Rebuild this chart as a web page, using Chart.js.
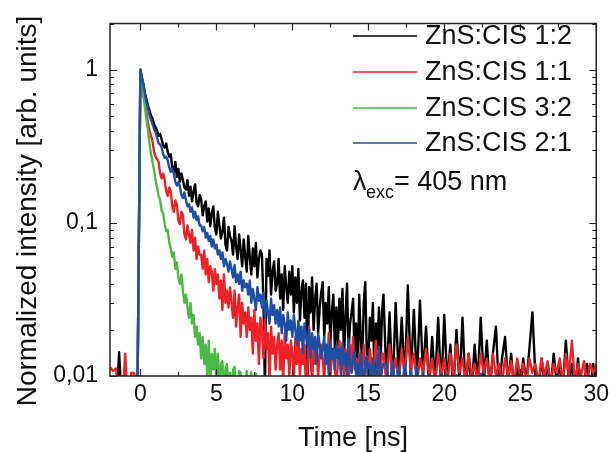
<!DOCTYPE html>
<html>
<head>
<meta charset="utf-8">
<script src="https://cdn.jsdelivr.net/npm/chart.js@4.4.0/dist/chart.umd.min.js"></script>
<style>
  html, body { margin: 0; padding: 0; background: #fff; }
  #wrap { width: 616px; height: 452px; }
</style>
</head>
<body>
<div id="wrap"><canvas id="decay" width="616" height="452"></canvas></div>
<script>
// time axis, ns: 0.2 ns bins before zero and after 16 ns, 0.1 ns in between
const times = [
  -2.0,-1.8,-1.6,-1.4,-1.2,-1.0,-0.8,-0.6,-0.4,-0.2,
  0.0,0.1,0.2,0.3,0.4,0.5,0.6,0.7,0.8,0.9,
  1.0,1.1,1.2,1.3,1.4,1.5,1.6,1.7,1.8,1.9,
  2.0,2.1,2.2,2.3,2.4,2.5,2.6,2.7,2.8,2.9,
  3.0,3.1,3.2,3.3,3.4,3.5,3.6,3.7,3.8,3.9,
  4.0,4.1,4.2,4.3,4.4,4.5,4.6,4.7,4.8,4.9,
  5.0,5.1,5.2,5.3,5.4,5.5,5.6,5.7,5.8,5.9,
  6.0,6.1,6.2,6.3,6.4,6.5,6.6,6.7,6.8,6.9,
  7.0,7.1,7.2,7.3,7.4,7.5,7.6,7.7,7.8,7.9,
  8.0,8.1,8.2,8.3,8.4,8.5,8.6,8.7,8.8,8.9,
  9.0,9.1,9.2,9.3,9.4,9.5,9.6,9.7,9.8,9.9,
  10.0,10.1,10.2,10.3,10.4,10.5,10.6,10.7,10.8,10.9,
  11.0,11.1,11.2,11.3,11.4,11.5,11.6,11.7,11.8,11.9,
  12.0,12.1,12.2,12.3,12.4,12.5,12.6,12.7,12.8,12.9,
  13.0,13.1,13.2,13.3,13.4,13.5,13.6,13.7,13.8,13.9,
  14.0,14.1,14.2,14.3,14.4,14.5,14.6,14.7,14.8,14.9,
  15.0,15.1,15.2,15.3,15.4,15.5,15.6,15.7,15.8,15.9,
  16.0,
  16.2,16.4,16.6,16.8,17.0,17.2,17.4,17.6,17.8,
  18.0,18.2,18.4,18.6,18.8,19.0,19.2,19.4,19.6,19.8,
  20.0,20.2,20.4,20.6,20.8,21.0,21.2,21.4,21.6,21.8,
  22.0,22.2,22.4,22.6,22.8,23.0,23.2,23.4,23.6,23.8,
  24.0,24.2,24.4,24.6,24.8,25.0,25.2,25.4,25.6,25.8,
  26.0,26.2,26.4,26.6,26.8,27.0,27.2,27.4,27.6,27.8,
  28.0,28.2,28.4,28.6,28.8,29.0,29.2,29.4,29.6,29.8,
  30.0
];

// ZnS:CIS 1:2
const cis12 = [
  0.006,0.006,0.006,0.0143,0.006,0.006,0.006,0.006,0.006,0.006,
  1.0,0.88,0.80,0.70,0.64,0.58,0.54,0.50,0.48,0.44,
  0.42,0.40,0.37,0.38,0.35,0.32,0.31,0.33,0.29,0.27,
  0.28,0.23,0.215,0.25,0.20,0.225,0.185,0.21,0.19,0.17,
  0.165,0.19,0.15,0.172,0.138,0.16,0.178,0.135,0.128,0.152,
  0.142,0.112,0.128,0.138,0.102,0.124,0.095,0.116,0.128,0.092,
  0.084,0.118,0.096,0.079,0.088,0.108,0.072,0.066,0.094,0.082,
  0.076,0.062,0.095,0.070,0.058,0.084,0.066,0.052,0.078,0.060,
  0.048,0.082,0.060,0.046,0.068,0.052,0.074,0.044,0.058,0.066,
  0.062,0.030,0.008,0.058,0.045,0.066,0.034,0.048,0.056,0.036,
  0.040,0.058,0.032,0.046,0.027,0.052,0.038,0.030,0.048,0.034,
  0.052,0.026,0.044,0.030,0.050,0.023,0.036,0.042,0.024,0.040,
  0.009,0.038,0.026,0.044,0.020,0.032,0.040,0.019,0.028,0.035,
  0.041,0.018,0.030,0.022,0.038,0.016,0.026,0.034,0.015,0.028,
  0.016,0.032,0.020,0.037,0.013,0.024,0.040,0.014,0.022,0.026,
  0.032,0.013,0.022,0.009,0.034,0.018,0.012,0.030,0.041,0.014,
  0.012,0.024,0.017,0.030,0.010,0.022,0.015,0.028,0.011,0.026,
  0.034,
  0.009,0.026,0.008,0.030,0.010,0.024,0.009,0.039,0.010,
  0.027,0.009,0.031,0.010,0.021,0.008,0.018,0.009,0.024,0.008,
  0.025,0.009,0.016,0.008,0.020,0.009,0.024,0.008,0.014,0.008,
  0.016,0.009,0.024,0.009,0.017,0.008,0.014,0.021,0.008,0.013,
  0.018,0.009,0.014,0.008,0.012,0.008,0.013,0.009,0.015,0.026,
  0.010,0.008,0.013,0.009,0.012,0.008,0.014,0.009,0.012,0.008,
  0.017,0.009,0.012,0.008,0.013,0.008,0.009,0.012,0.008,0.012,
  0.009
];

// ZnS:CIS 1:1
const cis11 = [
  0.0114,0.0108,0.0112,0.006,0.006,0.0140,0.006,0.0105,0.0104,0.006,
  1.0,0.82,0.68,0.60,0.53,0.45,0.40,0.37,0.34,0.29,
  0.27,0.26,0.25,0.21,0.195,0.21,0.19,0.16,0.15,0.17,
  0.160,0.128,0.118,0.140,0.132,0.104,0.098,0.118,0.112,0.084,
  0.078,0.096,0.084,0.074,0.090,0.066,0.080,0.058,0.070,0.062,
  0.062,0.050,0.066,0.046,0.058,0.041,0.052,0.048,0.036,0.050,
  0.040,0.046,0.032,0.042,0.027,0.046,0.030,0.036,0.028,0.038,
  0.030,0.024,0.036,0.021,0.028,0.034,0.018,0.030,0.022,0.026,
  0.018,0.028,0.020,0.024,0.014,0.027,0.017,0.022,0.012,0.024,
  0.020,0.013,0.024,0.015,0.019,0.009,0.021,0.014,0.018,0.011,
  0.016,0.019,0.011,0.017,0.009,0.019,0.013,0.016,0.010,0.017,
  0.014,0.009,0.018,0.012,0.019,0.010,0.015,0.012,0.016,0.008,
  0.011,0.021,0.013,0.009,0.016,0.012,0.015,0.010,0.014,0.016,
  0.013,0.009,0.016,0.012,0.019,0.010,0.013,0.015,0.011,0.009,
  0.012,0.017,0.011,0.014,0.010,0.015,0.012,0.009,0.016,0.012,
  0.018,0.011,0.013,0.010,0.014,0.009,0.012,0.016,0.010,0.013,
  0.010,0.015,0.012,0.009,0.013,0.017,0.010,0.012,0.009,0.014,
  0.014,
  0.009,0.016,0.010,0.013,0.009,0.015,0.010,0.018,0.011,
  0.014,0.009,0.013,0.0105,0.015,0.010,0.013,0.009,0.014,0.010,
  0.013,0.009,0.014,0.010,0.016,0.0105,0.013,0.009,0.014,0.010,
  0.012,0.009,0.014,0.0105,0.013,0.009,0.014,0.010,0.012,0.009,
  0.013,0.010,0.0125,0.009,0.013,0.010,0.012,0.009,0.013,0.0105,
  0.012,0.009,0.013,0.010,0.0125,0.009,0.012,0.0105,0.013,0.009,
  0.014,0.010,0.017,0.009,0.012,0.010,0.0125,0.009,0.012,0.0105,
  0.012
];

// ZnS:CIS 3:2 (under the axis after ~8 ns)
const cis32 = [
  0.006,0.006,0.006,0.006,0.006,0.006,0.006,0.006,0.006,0.006,
  1.0,0.82,0.70,0.57,0.47,0.40,0.33,0.28,0.25,0.22,
  0.19,0.17,0.15,0.14,0.12,0.115,0.098,0.088,0.090,0.074,
  0.068,0.060,0.064,0.050,0.055,0.044,0.040,0.046,0.036,0.030,
  0.034,0.028,0.024,0.030,0.022,0.025,0.018,0.021,0.016,0.019,
  0.013,0.018,0.012,0.016,0.010,0.017,0.009,0.014,0.011,0.015,
  0.009,0.014,0.008,0.012,0.0125,0.007,0.011,0.012,0.008,0.0105,
  0.007,0.011,0.0115,0.007,0.007,0.0108,0.0105,0.006,0.006,0.007,
  0.0108,0.007,0.006,0.0106,0.007,0.006,0.0104,0.006,0.006
];

// ZnS:CIS 2:1
const cis21 = [
  0.006,0.006,0.006,0.006,0.006,0.006,0.006,0.006,0.006,0.006,
  1.0,0.89,0.79,0.69,0.61,0.56,0.51,0.47,0.44,0.41,
  0.39,0.36,0.33,0.325,0.31,0.28,0.265,0.27,0.255,0.23,
  0.215,0.225,0.21,0.185,0.175,0.185,0.172,0.152,0.145,0.158,
  0.140,0.128,0.132,0.118,0.126,0.108,0.118,0.104,0.110,0.096,
  0.096,0.088,0.094,0.080,0.086,0.076,0.082,0.070,0.078,0.068,
  0.072,0.062,0.066,0.058,0.064,0.052,0.058,0.054,0.048,0.056,
  0.050,0.044,0.053,0.041,0.046,0.040,0.048,0.036,0.042,0.038,
  0.040,0.034,0.042,0.030,0.037,0.032,0.027,0.038,0.031,0.034,
  0.028,0.035,0.024,0.031,0.026,0.022,0.032,0.025,0.029,0.022,
  0.027,0.021,0.028,0.019,0.025,0.022,0.017,0.026,0.020,0.023,
  0.018,0.025,0.020,0.016,0.023,0.017,0.021,0.014,0.022,0.018,
  0.016,0.020,0.013,0.019,0.015,0.018,0.012,0.019,0.016,0.013,
  0.015,0.018,0.012,0.016,0.010,0.017,0.013,0.015,0.011,0.016,
  0.013,0.015,0.010,0.0165,0.012,0.014,0.009,0.0175,0.012,0.0105,
  0.013,0.0145,0.010,0.012,0.009,0.014,0.011,0.009,0.0125,0.0135,
  0.010,0.012,0.008,0.013,0.011,0.009,0.012,0.0155,0.009,0.011,
  0.012,
  0.012,0.008,0.0125,0.008,0.0115,0.008,0.012,0.008,0.011,
  0.008,0.0115,0.008,0.0105,0.008,0.0102,0.008,0.010,0.008,0.0103,
  0.008,0.0102,0.008,0.009,0.0101,0.008,0.009,0.008,0.0095,0.008,
  0.009,0.008,0.0103,0.008,0.009,0.008,0.0095,0.008,0.0104,0.008,
  0.009,0.008,0.0092,0.008,0.009,0.008,0.0092,0.008,0.009,0.008,
  0.0102,0.008,0.009,0.008,0.009,0.008,0.009,0.008,0.009,0.008,
  0.009,0.008,0.009,0.008,0.009,0.008,0.009,0.008,0.009,0.008,
  0.009
];

const seriesNames = ["ZnS:CIS 1:2", "ZnS:CIS 1:1", "ZnS:CIS 3:2", "ZnS:CIS 2:1"];
const seriesColors = ["#000000", "#ec2227", "#4cb847", "#1d4fa4"];
const seriesValues = [cis12, cis11, cis32, cis21];
const drawOrder = [4, 3, 2, 1]; // 2:1 on top, 1:2 at the back

const xTicks = [0, 5, 10, 15, 20, 25, 30];
const xMinor = [2.5, 7.5, 12.5, 17.5, 22.5, 27.5];
const yTicks = [0.01, 0.1, 1];
const yTickLabels = ["0,01", "0,1", "1"];
const yMinor = [0.02,0.03,0.04,0.05,0.06,0.07,0.08,0.09,0.2,0.3,0.4,0.5,0.6,0.7,0.8,0.9,2];

const FONT = '"Liberation Sans", Arial, Helvetica, sans-serif';
Chart.defaults.font.family = FONT;
Chart.defaults.color = "#111";

// frame, inward ticks, axis titles and legend
const decor = {
  id: "decor",
  afterDatasetsDraw(chart){
    const {ctx, chartArea: a, scales: {x, y}} = chart;
    ctx.save();
    ctx.strokeStyle = "#222";
    ctx.lineWidth = 1.5;
    ctx.strokeRect(a.left, a.top, a.right - a.left, a.bottom - a.top);
    ctx.beginPath();
    const xt = (v, len) => {
      const p = Math.round(x.getPixelForValue(v)) + 0.5;
      ctx.moveTo(p, a.bottom); ctx.lineTo(p, a.bottom - len);
      ctx.moveTo(p, a.top); ctx.lineTo(p, a.top + len);
    };
    const yt = (v, len) => {
      const p = Math.round(y.getPixelForValue(v)) + 0.5;
      ctx.moveTo(a.left, p); ctx.lineTo(a.left + len, p);
      ctx.moveTo(a.right, p); ctx.lineTo(a.right - len, p);
    };
    xTicks.forEach(v => xt(v, 7));
    xMinor.forEach(v => xt(v, 4));
    yTicks.forEach(v => yt(v, 7));
    yMinor.forEach(v => yt(v, 4));
    ctx.lineWidth = 1.2;
    ctx.stroke();

    // axis titles
    ctx.fillStyle = "#111";
    ctx.font = "27px " + FONT;
    ctx.textAlign = "center";
    ctx.textBaseline = "alphabetic";
    ctx.fillText("Time [ns]", (a.left + a.right) / 2, 446);
    ctx.save();
    ctx.translate(36, 211);
    ctx.rotate(-Math.PI / 2);
    ctx.font = "28px " + FONT;
    ctx.fillText("Normalized intensity [arb. units]", 0, 0);
    ctx.restore();

    // legend
    ctx.textAlign = "left";
    ctx.textBaseline = "middle";
    ctx.font = "27px " + FONT;
    const rows = [36, 72, 108, 143];
    seriesNames.forEach((n, i) => {
      ctx.strokeStyle = seriesColors[i];
      ctx.lineWidth = 1.6;
      ctx.beginPath();
      ctx.moveTo(353, rows[i]); ctx.lineTo(417, rows[i]);
      ctx.stroke();
      ctx.fillText(n, 425, rows[i] + 1);
    });
    ctx.textBaseline = "alphabetic";
    ctx.fillText("\u03bb", 353, 190);
    ctx.font = "18px " + FONT;
    ctx.fillText("exc", 366, 198);
    ctx.font = "27px " + FONT;
    ctx.fillText("= 405 nm", 394, 190);
    ctx.restore();
  }
};

const datasets = seriesValues.map((vals, i) => ({
  label: seriesNames[i],
  data: vals.map((v, k) => ({x: times[k], y: v})),
  borderColor: seriesColors[i],
  backgroundColor: seriesColors[i],
  borderWidth: 2.4,
  borderJoinStyle: "round",
  pointRadius: 0,
  tension: 0,
  order: drawOrder[i]
}));

new Chart(document.getElementById("decay").getContext("2d"), {
  type: "line",
  data: {datasets},
  options: {
    responsive: false,
    animation: false,
    layout: {padding: {top: 12, right: 14, left: 0, bottom: 0}},
    plugins: {legend: {display: false}, tooltip: {enabled: false}},
    scales: {
      x: {
        type: "linear", min: -2, max: 30,
        grid: {display: false, drawTicks: false},
        border: {display: false},
        ticks: {font: {size: 23, lineHeight: 1}, padding: 7, maxRotation: 0, autoSkip: false, color: "#111"},
        afterBuildTicks: s => { s.ticks = xTicks.map(v => ({value: v})); },
        afterFit: s => { s.height = 76; }
      },
      y: {
        type: "logarithmic", min: 0.01, max: 2,
        grid: {display: false, drawTicks: false},
        border: {display: false},
        ticks: {font: {size: 23, lineHeight: 1}, padding: 12, color: "#111",
          callback: (v, i) => yTickLabels[i]},
        afterBuildTicks: s => { s.ticks = yTicks.map(v => ({value: v})); },
        afterFit: s => { s.width = 110; }
      }
    }
  },
  plugins: [decor]
});
</script>
</body>
</html>
